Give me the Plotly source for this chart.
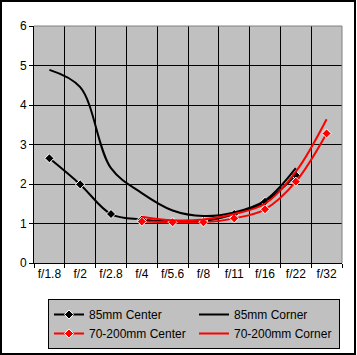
import plotly.graph_objects as go

categories = ["f/1.8", "f/2", "f/2.8", "f/4", "f/5.6", "f/8", "f/11", "f/16", "f/22", "f/32"]

c85_center = [2.65, 1.99, 1.24, 1.10, 1.05, 1.06, 1.24, 1.55, 2.22, None]
c85_corner = [4.89, 4.45, 2.40, 1.77, 1.33, 1.19, 1.28, 1.58, 2.40, None]
c70_center = [None, None, None, 1.05, 1.03, 1.03, 1.13, 1.36, 2.06, 3.28]
c70_corner = [None, None, None, 1.17, 1.08, 1.10, 1.24, 1.50, 2.31, 3.64]

W, H = 357, 355
L, R, T, B = 34, 15, 26, 92
pw, ph = W - L - R, H - T - B

def px(x):
    return (x - L) / pw

def py(y):
    return (H - B - y) / ph

font = dict(family="Arial, Liberation Sans, sans-serif", size=12, color="black")

fig = go.Figure()
fig.add_trace(go.Scatter(x=categories, y=c85_center, name="85mm Center", mode="lines+markers",
                         line=dict(color="black", width=2, shape="spline"),
                         marker=dict(symbol="diamond", size=7, color="black", line=dict(color="white", width=1))))
fig.add_trace(go.Scatter(x=categories, y=c85_corner, name="85mm Corner", mode="lines",
                         line=dict(color="black", width=2, shape="spline")))
fig.add_trace(go.Scatter(x=categories, y=c70_center, name="70-200mm Center", mode="lines+markers",
                         line=dict(color="red", width=2, shape="spline"),
                         marker=dict(symbol="diamond", size=7, color="red", line=dict(color="white", width=1))))
fig.add_trace(go.Scatter(x=categories, y=c70_corner, name="70-200mm Corner", mode="lines",
                         line=dict(color="red", width=2, shape="spline")))

fig.update_layout(
    width=W, height=H,
    margin=dict(l=L, r=R, t=T, b=B, autoexpand=False),
    paper_bgcolor="white",
    plot_bgcolor="#C0C0C0",
    font=font,
    showlegend=True,
    legend=dict(orientation="h", x=px(48), y=py(299), xanchor="left", yanchor="top",
                bgcolor="#C0C0C0", bordercolor="black", borderwidth=1,
                entrywidth=100, entrywidthmode="pixels",
                font=dict(family="Arial, Liberation Sans, sans-serif", size=12, color="black"),
                tracegroupgap=0, itemwidth=30),
    xaxis=dict(type="category", categoryorder="array", categoryarray=categories,
               range=[-0.5, 9.5], tickson="boundaries", showgrid=True, gridcolor="black", gridwidth=1,
               ticks="outside", ticklen=4, tickcolor="black", showline=True, linecolor="black", linewidth=1,
               tickangle=0, automargin=False, zeroline=False, fixedrange=True),
    yaxis=dict(range=[0, 6], tickvals=[0, 1, 2, 3, 4, 5, 6], showgrid=True, gridcolor="black", gridwidth=1,
               ticks="outside", ticklen=4, tickcolor="black", showline=True, linecolor="black", linewidth=1,
               automargin=False, zeroline=False, fixedrange=True),
    shapes=[
        dict(type="line", xref="paper", yref="paper", x0=0, x1=1, y0=1, y1=1,
             line=dict(color="#808080", width=1), layer="above"),
        dict(type="line", xref="paper", yref="paper", x0=1, x1=1, y0=0, y1=1,
             line=dict(color="#808080", width=1), layer="above"),
        dict(type="rect", xref="paper", yref="paper", x0=px(1), x1=px(355), y0=py(354), y1=py(1),
             line=dict(color="black", width=2), layer="above"),
    ],
)

fig.write_html("out.html")
